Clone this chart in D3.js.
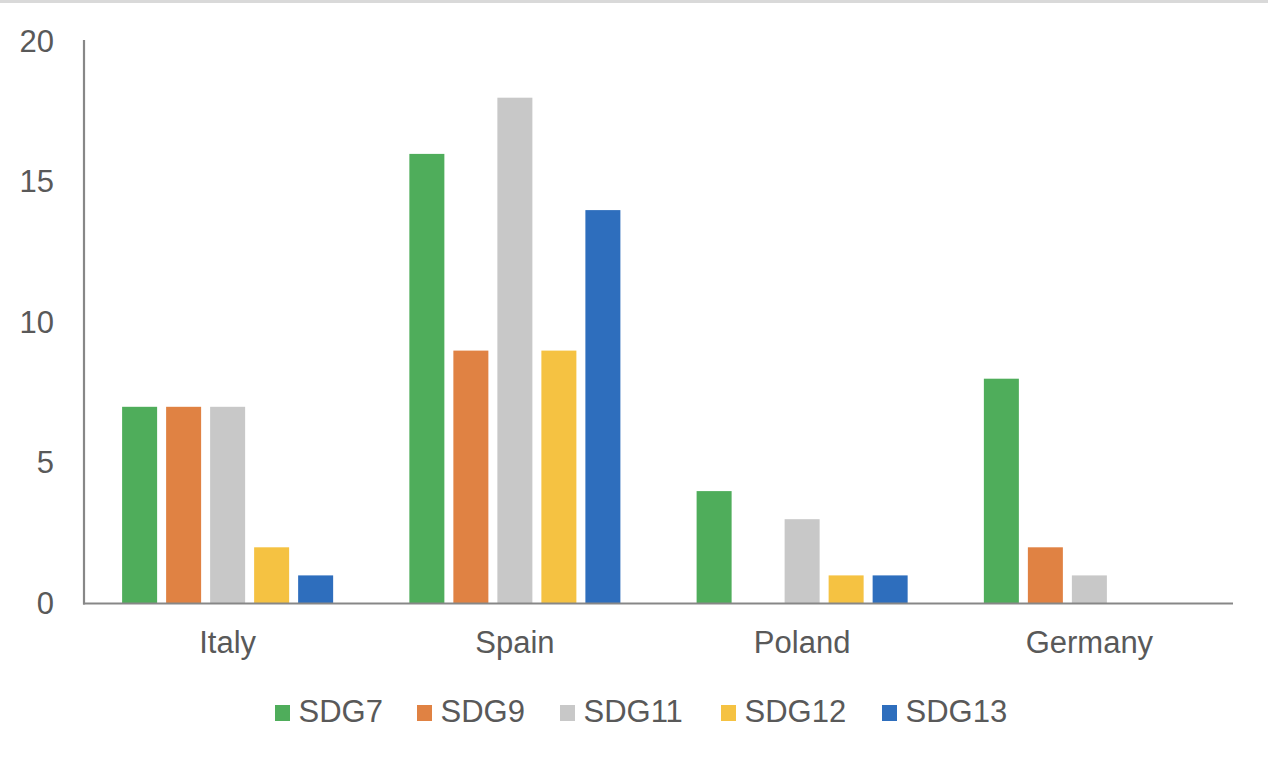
<!DOCTYPE html>
<html><head><meta charset="utf-8">
<script src="https://cdn.jsdelivr.net/npm/d3@7"></script>
<style>body{margin:0;background:#fff}svg{display:block}text{font-family:"Liberation Sans",Arial,Helvetica,sans-serif;fill:#595959}</style>
</head><body><svg id="c" width="1268" height="758"></svg>
<script>
const categories = ["Italy","Spain","Poland","Germany"];
const seriesNames = ["SDG7","SDG9","SDG11","SDG12","SDG13"];
const SDG7  = [7,16,4,8];
const SDG9  = [7,9,0,2];
const SDG11 = [7,18,3,1];
const SDG12 = [2,9,1,0];
const SDG13 = [1,14,1,0];
const yTicks = [0,5,10,15,20];
const colors = ["#4FAD5B","#E08243","#C8C8C8","#F5C242","#2E6EBD"];
const seriesValues = [SDG7,SDG9,SDG11,SDG12,SDG13];

(function(){
const svg = d3.select("#c");
const FS = 31;
svg.append("rect").attr("x",0).attr("y",0).attr("width",1268).attr("height",3).attr("fill","#d9d9d9");
const pL=84, pR=1233, pT=41.5, pB=603.5;
const x = d3.scaleBand().domain(categories).range([pL,pR]).paddingInner(0).paddingOuter(0);
const y = d3.scaleLinear().domain([0,20]).range([pB,pT]);
const inner = d3.scaleBand().domain(seriesNames).range([0,x.bandwidth()]).paddingInner(0.2045).paddingOuter(0.866);

const rows = [];
categories.forEach((c,i)=>seriesNames.forEach((s,j)=>rows.push({c,s,j,v:seriesValues[j][i]})));
svg.append("g").selectAll("rect").data(rows.filter(d=>d.v>0)).join("rect")
 .attr("x",d=>x(d.c)+inner(d.s)).attr("width",inner.bandwidth())
 .attr("y",d=>y(d.v)).attr("height",d=>y(0)-y(d.v)).attr("fill",d=>colors[d.j]);

const ya = svg.append("g").attr("transform",`translate(${pL},0)`).call(d3.axisLeft(y).tickValues(yTicks).tickSize(0).tickPadding(30));
ya.select(".domain").remove();
ya.selectAll("text").attr("font-size",FS).attr("font-family",null).style("fill","#595959");
svg.append("line").attr("x1",pL).attr("x2",pL).attr("y1",40).attr("y2",pB+1).attr("stroke","#878787").attr("stroke-width",2.2);
const xa = svg.append("g").attr("transform",`translate(0,${pB})`).call(d3.axisBottom(x).tickSize(0).tickPadding(27));
xa.select(".domain").remove();
xa.selectAll("text").attr("font-size",FS).attr("font-family",null).style("fill","#595959");
svg.append("line").attr("x1",pL-1).attr("x2",pR).attr("y1",pB).attr("y2",pB).attr("stroke","#878787").attr("stroke-width",2.2);

const legX = [275,417,560,721,882];
const lg = svg.append("g").selectAll("g").data(seriesNames).join("g").attr("transform",(d,i)=>`translate(${legX[i]},705)`);
lg.append("rect").attr("width",15).attr("height",16).attr("fill",(d,i)=>colors[i]);
lg.append("text").attr("x",23.5).attr("y",17).attr("font-size",FS).text(d=>d);
})();
</script></body></html>
